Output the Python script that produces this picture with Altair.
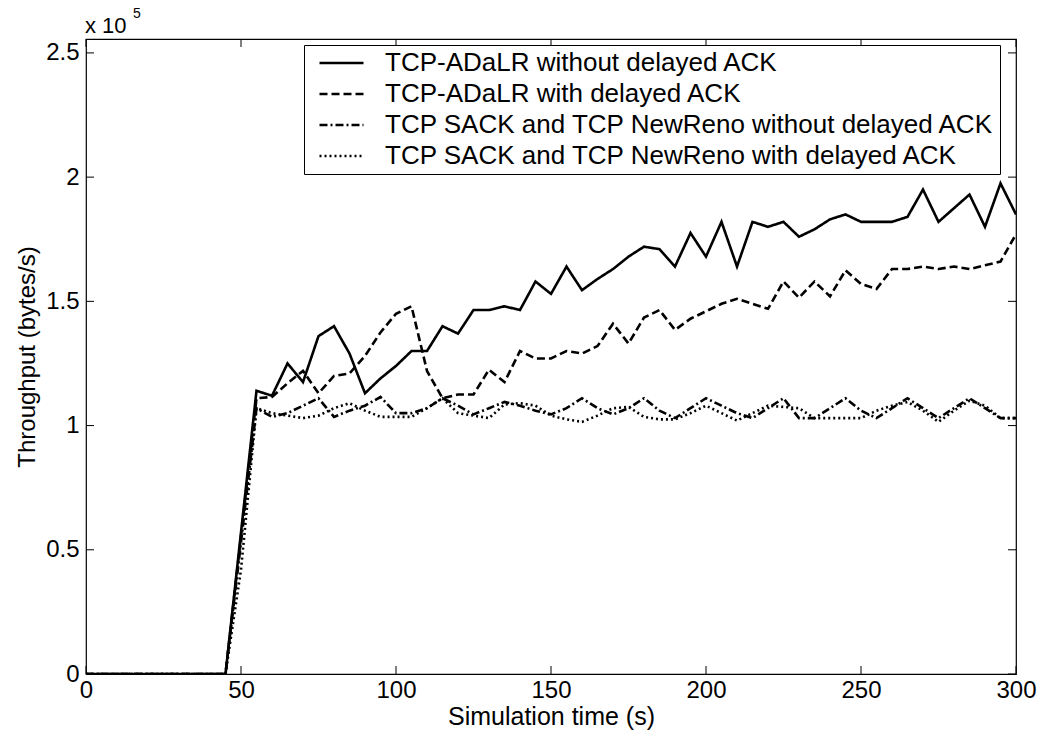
import altair as alt
import pandas as pd

# time axis (s)
times = [0, 45] + list(range(50, 301, 5))

# throughput values in units of 1e5 bytes/s
adalr_no_dack = [0, 0, 0.57, 1.14, 1.12, 1.25, 1.175, 1.36, 1.40, 1.29, 1.13, 1.19, 1.24, 1.30, 1.30,
                 1.40, 1.37, 1.465, 1.465, 1.48, 1.465, 1.58, 1.53, 1.64, 1.545, 1.59, 1.63, 1.68, 1.72,
                 1.71, 1.64, 1.775, 1.68, 1.82, 1.64, 1.82, 1.80, 1.82, 1.76, 1.79, 1.83, 1.85, 1.82,
                 1.82, 1.82, 1.84, 1.95, 1.82, 1.875, 1.93, 1.80, 1.975, 1.85]
adalr_dack = [0, 0, 0.555, 1.11, 1.115, 1.17, 1.22, 1.13, 1.20, 1.21, 1.28, 1.375, 1.45, 1.48, 1.22,
              1.11, 1.125, 1.125, 1.225, 1.175, 1.30, 1.27, 1.27, 1.30, 1.29, 1.32, 1.41, 1.33, 1.435,
              1.465, 1.385, 1.43, 1.46, 1.49, 1.51, 1.49, 1.47, 1.58, 1.515, 1.58, 1.52, 1.625, 1.57,
              1.55, 1.63, 1.63, 1.64, 1.63, 1.64, 1.63, 1.645, 1.66, 1.77]
sack_no_dack = [0, 0, 0.53, 1.07, 1.035, 1.05, 1.08, 1.11, 1.035, 1.06, 1.08, 1.115, 1.05, 1.05, 1.07,
                1.11, 1.08, 1.045, 1.07, 1.095, 1.08, 1.06, 1.045, 1.07, 1.11, 1.07, 1.045, 1.07, 1.11,
                1.06, 1.03, 1.07, 1.11, 1.08, 1.05, 1.03, 1.07, 1.11, 1.03, 1.03, 1.07, 1.11, 1.06,
                1.03, 1.07, 1.11, 1.07, 1.03, 1.07, 1.11, 1.07, 1.03, 1.03]
sack_dack = [0, 0, 0.42, 1.07, 1.05, 1.04, 1.03, 1.04, 1.07, 1.09, 1.06, 1.035, 1.035, 1.035, 1.07,
             1.11, 1.05, 1.04, 1.03, 1.085, 1.09, 1.08, 1.04, 1.025, 1.015, 1.04, 1.07, 1.075, 1.035,
             1.025, 1.025, 1.05, 1.08, 1.05, 1.02, 1.05, 1.08, 1.075, 1.07, 1.03, 1.03, 1.03, 1.03,
             1.06, 1.08, 1.095, 1.06, 1.015, 1.06, 1.10, 1.08, 1.03, 1.03]

series_names = [
    "TCP-ADaLR without delayed ACK",
    "TCP-ADaLR with delayed ACK",
    "TCP SACK and TCP NewReno without delayed ACK",
    "TCP SACK and TCP NewReno with delayed ACK",
]
series_values = [adalr_no_dack, adalr_dack, sack_no_dack, sack_dack]
dash_styles = [[1, 0], [8, 4], [8, 3, 2, 3], [2, 3]]

x_ticks = [0, 50, 100, 150, 200, 250, 300]
y_ticks = [0, 0.5, 1, 1.5, 2, 2.5]

rows = []
for name, vals in zip(series_names, series_values):
    for t, v in zip(times, vals):
        rows.append({"t": t, "v": v, "series": name})
df = pd.DataFrame(rows)

W, H = 930, 635
FONT = "Liberation Sans"
xscale = alt.Scale(domain=[0, 300], nice=False, zero=False)
yscale = alt.Scale(domain=[0, 2.556], nice=False, zero=False)

X = alt.X("t:Q", scale=xscale, title="Simulation time (s)",
          axis=alt.Axis(values=x_ticks, tickSize=0, domain=False, grid=False, labelFontSize=24,
                        labelFont=FONT, labelColor="black", labelPadding=4, labelFlush=False,
                        labelOverlap=False, titleFont=FONT, titleFontSize=25,
                        titleFontWeight="normal", titleColor="black", titlePadding=2))
Y = alt.Y("v:Q", scale=yscale, title="Throughput (bytes/s)",
          axis=alt.Axis(values=y_ticks, format="~g", tickSize=0, domain=False, grid=False,
                        labelFontSize=24, labelFont=FONT, labelColor="black", labelPadding=7,
                        labelFlush=False, labelOverlap=False, titleFont=FONT, titleFontSize=24,
                        titleFontWeight="normal", titleColor="black", titlePadding=6))

lines = alt.Chart(df).mark_line(strokeWidth=2.6, strokeCap="butt", clip=True).encode(
    x=X,
    y=Y,
    color=alt.value("black"),
    strokeDash=alt.StrokeDash(
        "series:N",
        scale=alt.Scale(domain=series_names, range=dash_styles),
        legend=alt.Legend(orient="none", legendX=218, legendY=6, title=None,
                          symbolType="M-0.227,0H3.773", symbolSize=484, symbolStrokeWidth=2.6,
                          symbolStrokeColor="black", symbolFillColor="transparent",
                          labelFontSize=26, labelFont=FONT, labelColor="black", labelLimit=900,
                          strokeColor="black", fillColor="white", padding=5, rowPadding=5,
                          labelOffset=50),
    ),
)

xt = pd.DataFrame({"t": x_ticks})
yt = pd.DataFrame({"v": y_ticks})
tick_bottom = alt.Chart(xt).mark_rule(color="black", strokeWidth=1).encode(
    x=X, y=alt.value(H), y2=alt.value(H - 8))
tick_top = alt.Chart(xt).mark_rule(color="black", strokeWidth=1).encode(
    x=X, y=alt.value(0), y2=alt.value(8))
tick_left = alt.Chart(yt).mark_rule(color="black", strokeWidth=1).encode(
    y=Y, x=alt.value(0), x2=alt.value(8))
tick_right = alt.Chart(yt).mark_rule(color="black", strokeWidth=1).encode(
    y=Y, x=alt.value(W), x2=alt.value(W - 8))

lab = pd.DataFrame({"a": [0]})
exp_main = alt.Chart(lab).mark_text(align="left", baseline="alphabetic", font=FONT, fontSize=22,
                                     color="black").encode(
    x=alt.value(-1), y=alt.value(-6), text=alt.value("x 10"))
exp_sup = alt.Chart(lab).mark_text(align="left", baseline="alphabetic", font=FONT, fontSize=14,
                                    color="black").encode(
    x=alt.value(47), y=alt.value(-21), text=alt.value("5"))

chart = alt.layer(lines, tick_bottom, tick_top, tick_left, tick_right, exp_main, exp_sup).properties(
    width=W, height=H,
    autosize=alt.AutoSizeParams(type="none"),
    padding={"left": 86, "top": 39, "right": 28, "bottom": 63},
    background="white",
).configure_view(stroke="black", strokeWidth=1.2)

chart.save("out.html", embed_options={"renderer": "svg", "actions": False})
